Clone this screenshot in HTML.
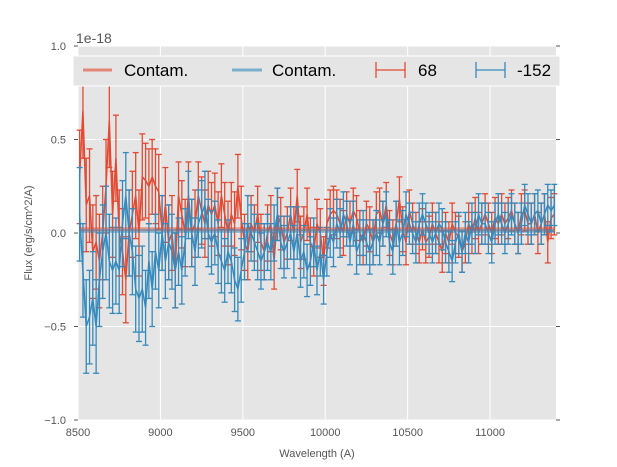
<!DOCTYPE html>
<html><head><meta charset="utf-8"><style>
body{margin:0;background:#fff;}
svg{display:block;font-family:"Liberation Sans",sans-serif;}
</style></head><body>
<svg id="c" width="617" height="467">
<rect x="78" y="46" width="478" height="374" fill="#E5E5E5"/>
<g id="grid"></g>
<g id="series"></g>
<g id="axes"></g>
<text x="76" y="43" font-size="14" fill="#555">1e-18</text>
<text x="317" y="457" font-size="11" fill="#555" text-anchor="middle">Wavelength (A)</text>
<text x="32" y="233" font-size="11" fill="#555" text-anchor="middle" transform="rotate(-90 32 233)">Flux (erg/s/cm^2/A)</text>
<g>
<rect x="73" y="56" width="487" height="30" fill="#E5E5E5" stroke="#fff" stroke-width="1"/>
<line x1="83" y1="70" x2="112" y2="70" stroke="#E24A33" stroke-width="3" opacity="0.6"/>
<text x="124" y="76" font-size="17">Contam.</text>
<line x1="232" y1="70" x2="262" y2="70" stroke="#348ABD" stroke-width="3" opacity="0.6"/>
<text x="272" y="76" font-size="17">Contam.</text>
<g stroke="#E24A33" stroke-width="1.3"><line x1="376" y1="70" x2="405" y2="70"/><line x1="376" y1="62" x2="376" y2="78"/><line x1="405" y1="62" x2="405" y2="78"/></g>
<text x="418" y="76" font-size="17">68</text>
<g stroke="#348ABD" stroke-width="1.3"><line x1="476" y1="70" x2="505" y2="70"/><line x1="476" y1="62" x2="476" y2="78"/><line x1="505" y1="62" x2="505" y2="78"/></g>
<text x="517" y="76" font-size="17">-152</text>
</g>
</svg>
<script>
const xStart = 8510, xStep = 20;
const redVals = [0.3,0.65,0.15,0.2,-0.1,-0.05,-0.15,0.0,0.25,0.6,
0.1,0.4,0.0,-0.1,-0.25,0.0,0.1,0.2,0.0,0.3,
0.28,0.25,0.3,0.25,0.22,0.0,0.15,-0.05,0.0,-0.2,
0.2,0.1,0.0,0.2,0.0,0.05,0.2,0.12,0.05,0.15,
0.1,0.15,0.05,0.2,0.1,0.0,0.1,0.05,0.25,0.08,
-0.05,-0.1,0.05,0.0,0.1,-0.05,-0.1,0.0,0.05,-0.15,
0.1,0.05,-0.05,0.0,0.1,0.0,0.2,-0.05,0.0,0.1,
-0.05,-0.1,0.05,0.0,-0.15,0.05,0.1,0.12,0.1,0.05,
0.0,0.1,0.05,0.12,0.08,0.0,-0.05,0.05,0.02,-0.05,
0.1,0.12,0.05,0.15,0.0,-0.05,0.05,0.18,0.02,-0.05,
0.12,0.05,0.0,-0.05,0.02,-0.05,-0.02,0.05,0.0,-0.05,
-0.1,0.0,-0.05,0.05,0.0,-0.02,-0.1,-0.05,0.05,0.0,
0.08,0.0,0.05,0.1,0.05,0.0,0.08,0.05,0.1,0.05,
0.08,0.12,0.05,0.0,0.1,0.12,0.05,0.05,0.1,0.0,
0.05,0.1,-0.05,0.08,0.1];
const blueVals = [0.1,-0.2,-0.5,-0.45,-0.35,-0.5,-0.25,-0.1,0.0,-0.15,
-0.2,-0.15,-0.2,0.05,0.2,0.0,-0.1,-0.3,-0.35,-0.3,
-0.4,-0.15,-0.3,-0.1,-0.2,0.0,-0.15,-0.05,-0.1,-0.2,
-0.1,-0.2,-0.05,0.15,0.0,-0.1,0.05,0.1,0.15,0.0,
-0.05,0.0,-0.1,-0.15,-0.2,-0.1,-0.15,-0.25,-0.3,-0.2,
-0.1,0.05,0.0,-0.05,-0.1,-0.15,-0.1,-0.05,-0.1,0.0,
0.1,-0.05,-0.1,-0.05,0.0,-0.1,0.0,-0.15,-0.1,-0.2,
-0.15,-0.05,-0.2,-0.1,-0.25,-0.1,0.0,-0.05,0.05,0.0,
0.1,0.05,-0.05,0.05,-0.1,-0.05,0.0,-0.05,-0.1,-0.05,
0.0,-0.05,0.05,0.1,-0.05,-0.1,0.05,-0.05,0.0,0.1,
0.05,0.0,-0.05,0.05,0.1,0.05,0.0,-0.05,0.0,0.05,
0.02,-0.05,-0.1,-0.15,-0.05,0.0,-0.1,0.0,-0.05,0.05,
0.0,0.1,0.05,0.05,0.0,-0.05,0.05,0.1,0.05,0.0,
0.05,0.1,0.05,0.0,0.05,0.15,0.1,0.05,0.1,0.12,
0.05,0.1,0.15,0.12,0.15];
const errChunks = [0.25,0.23,0.2,0.18,0.17,0.15,0.14,0.13,0.12,0.12,0.11,0.11,0.11,0.11,0.11];
const contamRed = 0.02, contamBlue = 0.01;
const xTicks = [8500,9000,9500,10000,10500,11000];
const yTicks = [-1.0,-0.5,0.0,0.5,1.0];
const yTickLabels = ["−1.0","−0.5","0.0","0.5","1.0"];

const X0=78,X1=556,Y0=420,Y1=46, XMIN=8500,XMAX=11400,YMIN=-1,YMAX=1;
const sx=v=>X0+(v-XMIN)/(XMAX-XMIN)*(X1-X0);
const sy=v=>Y0-(v-YMIN)/(YMAX-YMIN)*(Y0-Y1);
const NS="http://www.w3.org/2000/svg";
function mk(t,a,p){const e=document.createElementNS(NS,t);for(const k in a)e.setAttribute(k,a[k]);p.appendChild(e);return e;}
const grid=document.getElementById('grid'),ser=document.getElementById('series'),ax=document.getElementById('axes');
xTicks.forEach(t=>{
  const g=mk('line',{x1:sx(t),x2:sx(t),y1:Y1,y2:Y0,stroke:'#fff','stroke-width':1},grid);
  
  
  const l=mk('text',{x:sx(t),y:Y0+16,'font-size':11,fill:'#555','text-anchor':'middle'},ax);
  l.textContent=t;
  
  
});
yTicks.forEach((t,i)=>{
  const g=mk('line',{x1:X0,x2:X1,y1:sy(t),y2:sy(t),stroke:'#fff','stroke-width':1},grid);
  
  
  mk('line',{x1:X0-4,x2:X0,y1:sy(t),y2:sy(t),stroke:'#555'},ax);
  mk('line',{x1:X1,x2:X1+4,y1:sy(t),y2:sy(t),stroke:'#555'},ax);
  const l=mk('text',{x:X0-12,y:sy(t)+4,'font-size':11,fill:'#555','text-anchor':'end'},ax);
  l.textContent=yTickLabels[i];
  
  
});
function drawSeries(vals,color,name){
  const g=mk('g',{stroke:color,'stroke-width':1.3,fill:'none'},ser);
  
  
  let d='';
  vals.forEach((v,i)=>{
    const x=sx(xStart+i*xStep),e=errChunks[Math.floor(i/10)];
    const a=sy(v+e),b=sy(v-e);
    mk('line',{x1:x,x2:x,y1:a,y2:b},g);
    mk('line',{x1:x-3,x2:x+3,y1:a,y2:a},g);
    mk('line',{x1:x-3,x2:x+3,y1:b,y2:b},g);
    d+=(i?'L':'M')+x.toFixed(1)+' '+sy(v).toFixed(1);
  });
  mk('path',{d:d,'stroke-width':1.5},g);
}
drawSeries(redVals,'#E24A33','series-68');
drawSeries(blueVals,'#348ABD','series-152');
const c1=mk('line',{x1:sx(xStart),x2:sx(xStart+(redVals.length-1)*xStep),y1:sy(contamRed),y2:sy(contamRed),stroke:'#E24A33','stroke-width':4,opacity:0.5},ser);


const c2=mk('line',{x1:sx(xStart),x2:sx(xStart+(blueVals.length-1)*xStep),y1:sy(contamBlue),y2:sy(contamBlue),stroke:'#348ABD','stroke-width':4,opacity:0.5},ser);


</script>
</body></html>
